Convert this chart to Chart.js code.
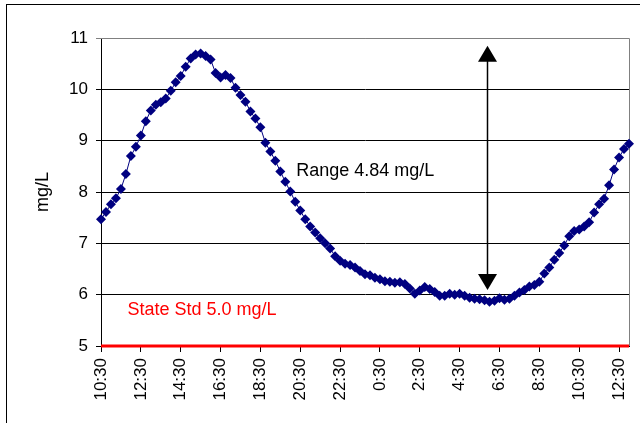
<!DOCTYPE html>
<html lang="en">
<head>
  <meta charset="UTF-8" />
  <title>Dissolved oxygen - 24 h</title>
  <script src="https://cdn.jsdelivr.net/npm/chart.js"></script>
  <style>
    html, body { margin: 0; padding: 0; background: #fff; }
    #marco { position: relative; width: 640px; height: 423px; overflow: hidden; }
    #marco::before {
      content: ''; position: absolute; left: 6px; top: 4px;
      width: 700px; height: 500px;
      border-left: 1px solid #000; border-top: 1px solid #000;
      pointer-events: none;
    }
  </style>
</head>
<body>
  <div id="marco">
    <canvas id="grafico"></canvas>
  </div>

  <script>
    // lecturas cada 15 min, de 10:30 a 13:00 del dia siguiente
    const horas = [
      '10:30','10:45','11:00','11:15','11:30','11:45','12:00','12:15',
      '12:30','12:45','13:00','13:15','13:30','13:45','14:00','14:15',
      '14:30','14:45','15:00','15:15','15:30','15:45','16:00','16:15',
      '16:30','16:45','17:00','17:15','17:30','17:45','18:00','18:15',
      '18:30','18:45','19:00','19:15','19:30','19:45','20:00','20:15',
      '20:30','20:45','21:00','21:15','21:30','21:45','22:00','22:15',
      '22:30','22:45','23:00','23:15','23:30','23:45','0:00','0:15',
      '0:30','0:45','1:00','1:15','1:30','1:45','2:00','2:15',
      '2:30','2:45','3:00','3:15','3:30','3:45','4:00','4:15',
      '4:30','4:45','5:00','5:15','5:30','5:45','6:00','6:15',
      '6:30','6:45','7:00','7:15','7:30','7:45','8:00','8:15',
      '8:30','8:45','9:00','9:15','9:30','9:45','10:00','10:15',
      '10:30','10:45','11:00','11:15','11:30','11:45','12:00','12:15',
      '12:30','12:45','13:00'
    ];

    const oxigeno = [
      7.47, 7.61, 7.76, 7.88, 8.06, 8.35, 8.70, 8.88,
      9.10, 9.38, 9.59, 9.70, 9.75, 9.82, 9.97, 10.14,
      10.26, 10.44, 10.60, 10.68, 10.70, 10.65, 10.58, 10.32,
      10.23, 10.28, 10.22, 10.03, 9.89, 9.76, 9.57, 9.43,
      9.26, 8.96, 8.79, 8.61, 8.40, 8.20, 8.01, 7.81,
      7.64, 7.47, 7.33, 7.21, 7.10, 7.00, 6.90, 6.75,
      6.66, 6.60, 6.58, 6.53, 6.46, 6.40, 6.38, 6.33,
      6.30, 6.26, 6.25, 6.23, 6.24, 6.21, 6.12, 6.02,
      6.08, 6.15, 6.11, 6.05, 5.98, 5.98, 6.02, 6.00,
      6.02, 5.98, 5.94, 5.92, 5.91, 5.89, 5.86, 5.88,
      5.93, 5.90, 5.92, 5.98, 6.04, 6.09, 6.16, 6.19,
      6.25, 6.41, 6.53, 6.68, 6.81, 6.96, 7.14, 7.24,
      7.27, 7.33, 7.41, 7.60, 7.76, 7.87, 8.13, 8.44,
      8.67, 8.84, 8.94
    ];

    const yMin = 5;
    const yMax = 11;
    const estandar = 5.0;

    // anotaciones (en unidades de los ejes)
    const flecha = { en: 77.5, arriba: 10.85, abajo: 6.09 };
    const textoRango = { texto: 'Range 4.84 mg/L', en: 39.2, valor: 8.4, color: '#000' };
    const textoEstandar = { texto: 'State Std 5.0 mg/L', en: 5.3, valor: 5.7, color: '#ff0000' };

    const fuente = 'Arial, "Liberation Sans", sans-serif';

    const notas = {
      id: 'notas',
      beforeDatasetsDraw(chart) {
        const { ctx, chartArea: a } = chart;
        ctx.save();
        ctx.strokeStyle = '#808080';
        ctx.lineWidth = 1;
        ctx.beginPath();
        ctx.moveTo(a.left, Math.round(a.top) + 0.5);
        ctx.lineTo(Math.round(a.right) + 0.5, Math.round(a.top) + 0.5);
        ctx.lineTo(Math.round(a.right) + 0.5, a.bottom);
        ctx.stroke();
        ctx.restore();
      },
      afterDatasetsDraw(chart) {
        const { ctx, chartArea: a, scales: { x, y } } = chart;
        ctx.save();

        // linea del estandar estatal
        const ys = y.getPixelForValue(estandar);
        ctx.strokeStyle = '#ff0000';
        ctx.lineWidth = 3;
        ctx.beginPath();
        ctx.moveTo(a.left, ys);
        ctx.lineTo(a.right, ys);
        ctx.stroke();

        // flecha doble
        const ax = Math.round(x.getPixelForValue(flecha.en)) + 0.5;
        const y1 = y.getPixelForValue(flecha.arriba);
        const y2 = y.getPixelForValue(flecha.abajo);
        ctx.strokeStyle = '#000';
        ctx.fillStyle = '#000';
        ctx.lineWidth = 1.5;
        ctx.beginPath();
        ctx.moveTo(ax, y1 + 12);
        ctx.lineTo(ax, y2 - 12);
        ctx.stroke();
        const punta = (py, dir) => {
          ctx.beginPath();
          ctx.moveTo(ax, py);
          ctx.lineTo(ax - 9.5, py + dir * 16);
          ctx.lineTo(ax + 9.5, py + dir * 16);
          ctx.closePath();
          ctx.fill();
        };
        punta(y1, 1);
        punta(y2, -1);

        // textos
        ctx.font = '18px ' + fuente;
        ctx.textAlign = 'left';
        ctx.textBaseline = 'middle';
        [textoRango, textoEstandar].forEach(t => {
          ctx.fillStyle = t.color;
          ctx.fillText(t.texto, x.getPixelForValue(t.en), y.getPixelForValue(t.valor));
        });
        ctx.restore();
      }
    };

    new Chart(document.getElementById('grafico'), {
      type: 'line',
      data: {
        labels: horas,
        datasets: [{
          data: oxigeno,
          borderColor: '#000080',
          backgroundColor: '#000080',
          borderWidth: 1,
          pointStyle: 'rectRot',
          pointRadius: 5,
          pointBorderWidth: 0,
          tension: 0
        }]
      },
      options: {
        responsive: true,
        maintainAspectRatio: false,
        animation: false,
        layout: { padding: { left: 0, top: 38, right: 11, bottom: 0 } },
        plugins: {
          legend: { display: false },
          tooltip: { enabled: false }
        },
        scales: {
          x: {
            offset: false,
            afterFit: s => { s.height = 77; s.paddingLeft = 0; s.paddingRight = 0; },
            grid: { drawOnChartArea: false, tickLength: 6, color: '#000' },
            border: { color: '#000' },
            ticks: {
              autoSkip: false,
              maxRotation: 90,
              minRotation: 90,
              padding: 6,
              color: '#000',
              font: { family: fuente, size: 17 },
              callback: (v, i) => (i % 8 === 0 ? horas[i] : null)
            }
          },
          y: {
            min: yMin,
            max: yMax,
            afterFit: s => { s.width = 101; },
            grid: {
              tickLength: 5,
              color: c => (c.tick && c.tick.value === yMax ? '#808080' : '#000')
            },
            border: { color: '#000' },
            ticks: {
              stepSize: 1,
              padding: 8,
              color: '#000',
              font: { family: fuente, size: 17 }
            },
            title: {
              display: true,
              text: 'mg/L',
              color: '#000',
              padding: { top: 32, bottom: 0 },
              font: { family: fuente, size: 18 }
            }
          }
        }
      },
      plugins: [notas]
    });
  </script>
</body>
</html>
